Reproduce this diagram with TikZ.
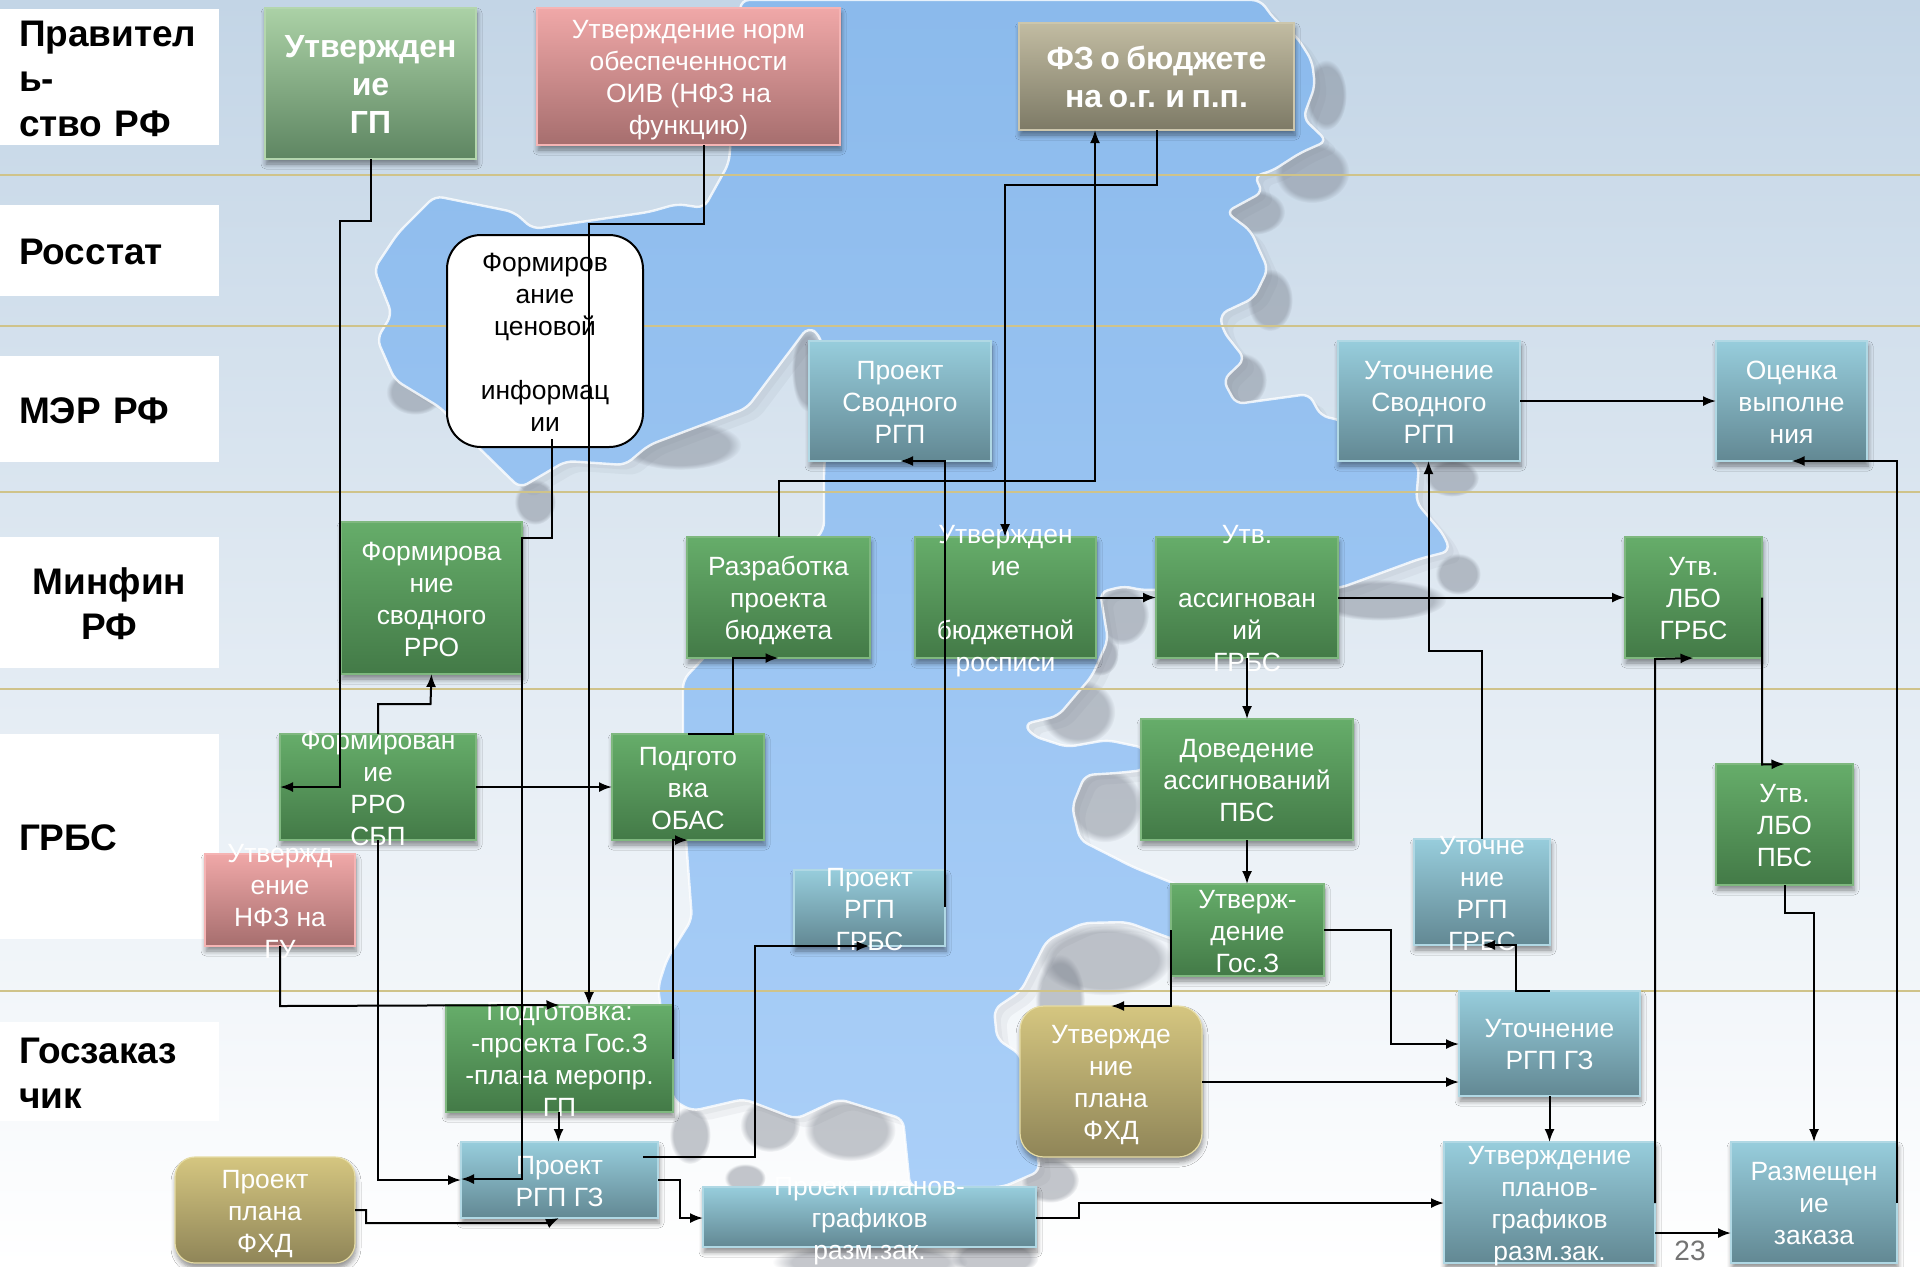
\documentclass[tikz,border=0pt]{standalone}
\usepackage{fontspec}
\setmainfont{Liberation Sans}
\usetikzlibrary{arrows.meta,shadows,shadows.blur,fadings}
\definecolor{goldline}{HTML}{CFC38A}
\definecolor{HTML7FB87F}{HTML}{7FB87F}\definecolor{HTML66AD6A}{HTML}{66AD6A}\definecolor{HTML437A47}{HTML}{437A47}
\definecolor{HTMLB4D6AE}{HTML}{B4D6AE}\definecolor{HTMLABD1A6}{HTML}{ABD1A6}\definecolor{HTML5E8662}{HTML}{5E8662}
\definecolor{HTMLF5B4B4}{HTML}{F5B4B4}\definecolor{HTMLF0A8A8}{HTML}{F0A8A8}\definecolor{HTMLA66E6E}{HTML}{A66E6E}
\definecolor{HTMLCCC6AC}{HTML}{CCC6AC}\definecolor{HTMLC2BCA2}{HTML}{C2BCA2}\definecolor{HTML7D7A66}{HTML}{7D7A66}
\definecolor{HTMLB0D8E4}{HTML}{B0D8E4}\definecolor{HTML97CDDC}{HTML}{97CDDC}\definecolor{HTML628893}{HTML}{628893}
\definecolor{HTMLE6DCA4}{HTML}{E6DCA4}\definecolor{HTMLD5C680}{HTML}{D5C680}\definecolor{HTML8F8558}{HTML}{8F8558}
\definecolor{landtop}{HTML}{C3D5E6}\definecolor{seatop}{HTML}{8BBAEC}\definecolor{seabot}{HTML}{AACFF8}
\definecolor{coast}{HTML}{6E7480}
\newcommand{\tightsp}{\spaceskip=.2em\relax}
\newcommand{\tightlane}{\spaceskip=.1em\relax}
\tikzset{
  shad/.style={blur shadow={shadow blur steps=6,shadow xshift=.5pt,shadow yshift=-2.5pt,shadow blur radius=2.5pt,shadow opacity=45}},
  boxbase/.style={rectangle,inner sep=0pt,outer sep=0pt,line width=.6pt,shad},
  greenbox/.style={boxbase,draw=HTML7FB87F,top color=HTML66AD6A,bottom color=HTML437A47},
  lgreenbox/.style={boxbase,draw=HTMLB4D6AE,top color=HTMLABD1A6,bottom color=HTML5E8662},
  pinkbox/.style={boxbase,draw=HTMLF5B4B4,top color=HTMLF0A8A8,bottom color=HTMLA66E6E},
  tanbox/.style={boxbase,draw=HTMLCCC6AC,top color=HTMLC2BCA2,bottom color=HTML7D7A66},
  tealbox/.style={boxbase,draw=HTMLB0D8E4,top color=HTML97CDDC,bottom color=HTML628893},
  goldbox/.style={boxbase,rounded corners=12pt,draw=HTMLE6DCA4,top color=HTMLD5C680,bottom color=HTML8F8558},
  goldsmall/.style={goldbox,rounded corners=10pt},
  whitebox/.style={rectangle,inner sep=0pt,outer sep=0pt,rounded corners=17pt,draw=black,line width=1pt,fill=white},
  txtn/.style={inner sep=0pt,yshift=-1.9pt,align=center,text=white,font=\fontsize{13.2}{16}\selectfont},
  txtb/.style={inner sep=0pt,yshift=-2.3pt,align=center,text=white,font=\bfseries\fontsize{16}{19}\selectfont\tightsp},
  txtk/.style={inner sep=0pt,yshift=-1.9pt,align=center,text=black,font=\fontsize{13.2}{16}\selectfont},
  lane/.style={rectangle,fill=white,inner sep=0pt,minimum width=109.5pt,text width=90.5pt,font=\bfseries\fontsize{18.5}{22.5}\selectfont\tightlane},
  conn/.style={draw=black,line width=1pt},
  arr/.style={conn,-{Latex[length=6.5pt,width=5pt]}},
  gold/.style={draw=goldline,line width=.8pt}
}
\newcommand{\bx}[8]{%
  \node[#2,minimum width={(#5-#3)*0.5pt},minimum height={(#6-#4)*0.5pt}] (#1) at ({(#3+#5)/2},{(#4+#6)/2}) {};
  \node[#7] (#1t) at (#1.center) {\strut#8\strut};}
\newcommand{\lanebox}[5]{%
  \node[lane,minimum height={(#4-#3)*0.5pt},align=#2] (#1) at (109.5,{(#3+#4)/2}) {\vrule height 14.5pt width 0pt\relax #5};}
% a soft grey patch of coast shadow: centre x, centre y, radius x, radius y
\newcommand{\coastblob}[4]{%
  \fill[coast,opacity=.4,path fading=circle with fuzzy edge 20 percent] (#1,#2) ellipse [x radius=#3*0.52pt+2pt,y radius=#4*0.52pt+2pt];}
\def\seapath{(741,0) -- (1260,0) -- (1275,20) -- (1297,37) -- (1312,61) -- (1315,86) -- (1303,118) -- (1327,141) -- (1300,153) -- (1272,171) -- (1254,176) -- (1263,192) -- (1226,212) -- (1251,231) -- (1257,245) -- (1268,269) -- (1254,298) -- (1220,314) -- (1223,331) -- (1245,359) -- (1223,380) -- (1236,404) -- (1309,394) -- (1321,416) -- (1340,420) -- (1419,465) -- (1416,502) -- (1444,535) -- (1450,551) -- (1419,559) -- (1340,588) -- (1140,590) -- (1125,586) -- (1100,592) -- (1108,640) -- (1092,676) -- (1058,716) -- (1024,724) -- (1033,736) -- (1067,747) -- (1107,740) -- (1145,748) -- (1145,770) -- (1117,773) -- (1085,775) -- (1072,807) -- (1080,840) -- (1133,867) -- (1190,890) -- (1190,945) -- (1167,937) -- (1127,922) -- (1083,923) -- (1047,940) -- (1021,991) -- (994,1009) -- (997,1039) -- (1021,1055) -- (1040,1171) -- (1003,1187) -- (910,1187) -- (903,1119) -- (839,1099) -- (796,1119) -- (744,1099) -- (692,1111) -- (673,1100) -- (658,987) -- (667,959) -- (692,919) -- (683,800) -- (683,680) -- (824,530) -- (824,469) -- (830,400) -- (820,335) -- (808,327) -- (747,408) -- (649,445) -- (625,465) -- (566,461) -- (520,488) -- (472,441) -- (441,408) -- (395,380) -- (377,339) -- (392,314) -- (374,269) -- (398,233) -- (435,196) -- (514,212) -- (533,229) -- (649,212) -- (677,204) -- (704,208) -- (729,163) -- cycle}
\begin{document}
\begin{tikzpicture}[x=0.5pt,y=-0.5pt]
\useasboundingbox (0,0) rectangle (1920,1266);
% background map
\shade[top color=landtop,bottom color=white] (0,0) rectangle (1920,1266);
\begin{scope}
  \clip (0,0) rectangle (1920,1266);
  \coastblob{1326}{95}{16}{30}
  \coastblob{1312}{172}{32}{26}
  \coastblob{1254}{212}{26}{18}
  \coastblob{1270}{300}{18}{26}
  \coastblob{1242}{380}{20}{22}
  \coastblob{1452}{478}{22}{14}
  \coastblob{1458}{574}{18}{16}
  \coastblob{1380}{600}{60}{16}
  \coastblob{1122}{615}{22}{25}
  \coastblob{1100}{655}{14}{16}
  \coastblob{1078}{712}{32}{28}
  \coastblob{1105}{805}{32}{32}
  \coastblob{1105}{960}{60}{30}
  \coastblob{1060}{1000}{20}{40}
  \coastblob{1050}{1180}{24}{18}
  \coastblob{415}{392}{24}{18}
  \coastblob{535}{502}{16}{18}
  \coastblob{680}{445}{55}{20}
  \coastblob{808}{370}{12}{36}
  \coastblob{690}{1135}{16}{24}
  \coastblob{770}{1125}{25}{22}
  \coastblob{850}{1130}{40}{26}
  \coastblob{995}{1258}{38}{14}
  \coastblob{870}{1262}{90}{14}
  \coastblob{745}{1178}{16}{10}
  \coastblob{665}{285}{12}{20}
  \fill[coast,opacity=.07,rounded corners=4pt,shift={(12,10)}] \seapath;
  \fill[coast,opacity=.07,rounded corners=4pt,shift={(6,5)}] \seapath;
  \shade[top color=seatop,bottom color=seabot,rounded corners=4pt] \seapath;
  \draw[white,opacity=.8,line width=1.2pt,rounded corners=4pt] \seapath;
\end{scope}
% horizontal lane rules
\draw[gold] (0,175) -- (1920,175);
\draw[gold] (0,326) -- (1920,326);
\draw[gold] (0,492) -- (1920,492);
\draw[gold] (0,689) -- (1920,689);
\draw[gold] (0,991) -- (1920,991);
% lane titles
\lanebox{l1}{left}{9}{145}{Правител\\ь-\\ство РФ}
\lanebox{l2}{left}{205}{296}{Росстат}
\lanebox{l3}{left}{356}{462}{МЭР РФ}
\lanebox{l4}{center}{537}{668}{Минфин\\РФ}
\lanebox{l5}{left}{734}{939}{ГРБС}
\lanebox{l6}{left}{1022}{1121}{Госзаказ\\чик}
% boxes
\bx{gp}{lgreenbox}{265}{8}{476}{159}{txtb}{Утвержден\\ие\\ГП}
\bx{nfz}{pinkbox}{537}{8}{840}{145}{txtn}{Утверждение норм\\обеспеченности\\ОИВ (НФЗ на\\функцию)}
\bx{fz}{tanbox}{1019}{23}{1294}{130}{txtb}{ФЗ о бюджете\\на о.г. и п.п.}
\bx{cen}{whitebox}{447}{235}{643}{447}{txtk}{Формиров\\ание\\ценовой\\\mbox{}\\информац\\ии}
\bx{psv}{tealbox}{809}{341}{991}{461}{txtn}{Проект\\Сводного\\РГП}
\bx{usv}{tealbox}{1338}{341}{1520}{461}{txtn}{Уточнение\\Сводного\\РГП}
\bx{ocn}{tealbox}{1716}{341}{1867}{461}{txtn}{Оценка\\выполне\\ния}
\bx{srro}{greenbox}{341}{522}{522}{674}{txtn}{Формирова\\ние\\сводного\\РРО}
\bx{razr}{greenbox}{687}{537}{870}{658}{txtn}{Разработка\\проекта\\бюджета}
\bx{ubr}{greenbox}{915}{537}{1096}{658}{txtn}{Утвержден\\ие\\\mbox{}\\бюджетной\\росписи}
\bx{uas}{greenbox}{1156}{537}{1338}{658}{txtn}{Утв.\\\mbox{}\\ассигнован\\ий\\ГРБС}
\bx{lbog}{greenbox}{1625}{537}{1762}{658}{txtn}{Утв.\\ЛБО\\ГРБС}
\bx{rro}{greenbox}{280}{734}{476}{840}{txtn}{Формирован\\ие\\РРО\\СБП}
\bx{obas}{greenbox}{612}{734}{764}{840}{txtn}{Подгото\\вка\\ОБАС}
\bx{nfgu}{pinkbox}{205}{854}{355}{946}{txtn}{Утвержд\\ение\\НФЗ на\\ГУ}
\bx{rgrbs}{tealbox}{794}{870}{945}{946}{txtn}{Проект\\РГП\\ГРБС}
\bx{podg}{greenbox}{446}{1005}{673}{1112}{txtn}{Подготовка:\\-проекта Гос.З\\-плана меропр.\\ГП}
\bx{rgz}{tealbox}{461}{1142}{658}{1218}{txtn}{Проект\\РГП ГЗ}
\bx{pfxd}{goldsmall}{175}{1157}{355}{1263}{txtn}{Проект\\плана\\ФХД}
\bx{pgr}{tealbox}{703}{1187}{1036}{1247}{txtn}{Проект планов-\\графиков\\разм.зак.}
\bx{dov}{greenbox}{1141}{719}{1353}{840}{txtn}{Доведение\\ассигнований\\ПБС}
\bx{ugz}{greenbox}{1171}{884}{1324}{976}{txtn}{Утверж-\\дение\\Гос.З}
\bx{urg}{tealbox}{1414}{839}{1550}{945}{txtn}{Уточне\\ние\\РГП\\ГРБС}
\bx{lbop}{greenbox}{1716}{764}{1853}{885}{txtn}{Утв.\\ЛБО\\ПБС}
\bx{ufxd}{goldbox}{1020}{1006}{1202}{1157}{txtn}{Утвержде\\ние\\плана\\ФХД}
\bx{urgz}{tealbox}{1459}{991}{1640}{1096}{txtn}{Уточнение\\РГП ГЗ}
\bx{ugr}{tealbox}{1444}{1142}{1655}{1263}{txtn}{Утверждение\\планов-\\графиков\\разм.зак.}
\bx{raz}{tealbox}{1731}{1142}{1897}{1263}{txtn}{Размещен\\ие\\заказа}
\node[text=black!55,font=\fontsize{14}{16}\selectfont,inner sep=0pt] (pg) at (1690,1251) {23};
% connectors
\draw[arr] (gp.south) -- (gp.south |- 0,221) -- (340,221) -- (340,787) -- (rro.west);
\draw[arr] (nfz.south -| 703.6,0) -- (703.6,224) -- (589,224) -- (podg.north -| 589,0);
\draw[arr] (fz.south) -- (fz.south |- 0,184.5) -- (1005,184.5) -- (ubr.north -| 1005,0);
\draw[arr] (razr.north) -- (razr.north |- 0,481) -- (1095,481) -- (fz.south -| 1095,0);
\draw[arr] (cen.south -| 552,0) ++(0,-8) -- (552,538) -- (srro.east |- 0,538) -- (srro.east |- 0,1179) -- (rgz.west |- 0,1179);
\draw[arr] (rro.north -| 378,0) -- (378,704) -- (430.5,704) -- (srro.south);
\draw[arr] (rro.east) -- (obas.west);
\draw[arr] (rro.south -| 378,0) -- (378,1180) -- (rgz.west |- 0,1180);
\draw[arr] (nfgu.south) -- (nfgu.south |- 0,1006) -- (podg.north);
\draw[arr] (podg.east |- 0,1059) -- (obas.south -| 673,0) -- (obas.south);
\draw[arr] (obas.north) -- (733,734) -- (733,658) -- (razr.south);
\draw[arr] (podg.south -| 558.5,0) -- (rgz.north -| 558.5,0);
\draw[arr] (643,1157) -- (755,1157) -- (755,946) -- (rgrbs.south);
\draw[arr] (rgz.east |- 0,1180) -- (680,1180) -- (680,1218) -- (pgr.west |- 0,1218);
\draw[arr] (pfxd.east |- 0,1210) -- (366,1210) -- (366,1223) -- (548,1223) -- (rgz.south -| 559,0);
\draw[arr] (rgrbs.east |- 0,907) -- (rgrbs.east |- 0,461) -- (psv.south);
\draw[arr] (ubr.east) -- (uas.west);
\draw[arr] (uas.east) -- (lbog.west);
\draw[arr] (uas.south) -- (dov.north);
\draw[arr] (dov.south) -- (ugz.north -| dov.south);
\draw[arr] (ugz.west) -- (ugz.west |- 0,1006) -- (ufxd.north);
\draw[arr] (ugz.east) -- (1391,930) -- (1391,1044) -- (urgz.west |- 0,1044);
\draw[arr] (ufxd.east |- 0,1082) -- (urgz.west |- 0,1082);
\draw[arr] (urgz.north) -- (1516,991) -- (1516,945) -- (urg.south);
\draw[arr] (urg.north) -- (urg.north |- 0,651) -- (1428.5,651) -- (usv.south -| 1428.5,0);
\draw[arr] (urgz.south) -- (ugr.north -| urgz.south);
\draw[arr] (pgr.east |- 0,1218) -- (1079,1218) -- (1079,1203) -- (ugr.west |- 0,1203);
\draw[arr] (ugr.east |- 0,1203) -- (ugr.east |- 0,659) -- (lbog.south);
\draw[arr] (lbog.east) -- (lbog.east |- 0,764.5) -- (lbop.north);
\draw[arr] (lbop.south) -- (lbop.south |- 0,913) -- (1814,913) -- (raz.north);
\draw[arr] (ugr.east |- 0,1233) -- (raz.west |- 0,1233);
\draw[arr] (raz.east |- 0,1203) -- (raz.east |- 0,461) -- (ocn.south);
\draw[arr] (usv.east) -- (ocn.west);
\end{tikzpicture}
\end{document}
